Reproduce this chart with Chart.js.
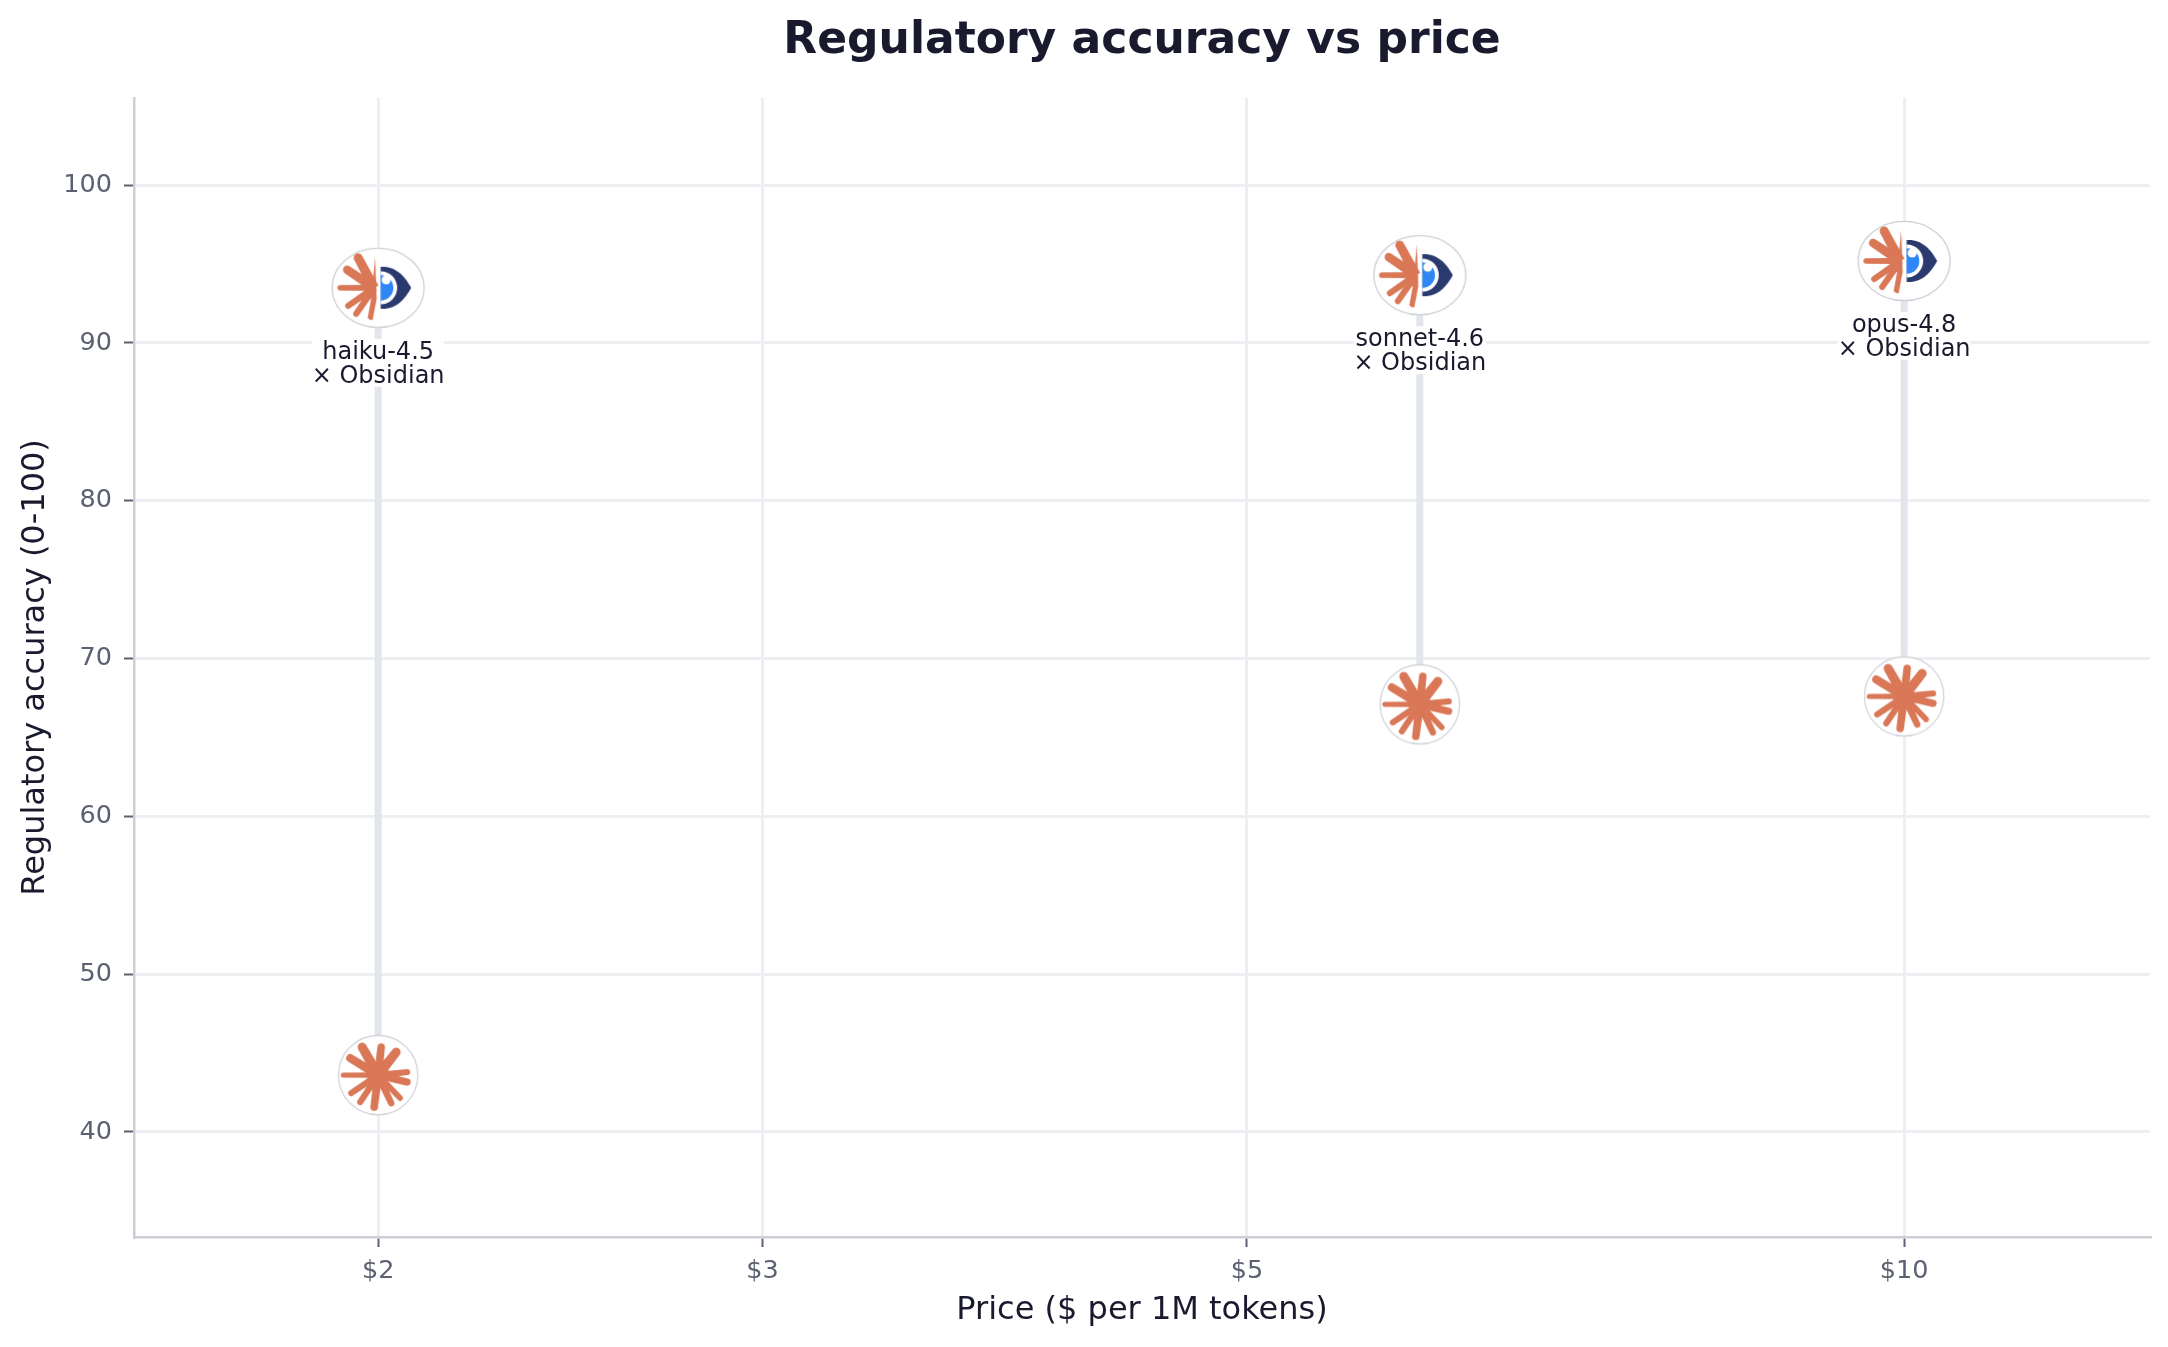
<!DOCTYPE html>
<html>
<head>
<meta charset="utf-8">
<title>Regulatory accuracy vs price</title>
<script src="https://cdn.jsdelivr.net/npm/chart.js@4"></script>
<style>
    body { margin: 0; background: #fff; }
    canvas { display: block; }
</style>
</head>
<body>
<canvas id="priceChart" width="2168" height="1347"></canvas>
<script>
const models = ['haiku-4.5', 'sonnet-4.6', 'opus-4.8'];
const prices = [2, 6, 10];
const baseAccuracy = [43.6, 67.1, 67.6];
const pairedAccuracy = [93.5, 94.3, 95.2];
const pairedWith = '× Obsidian';
const xTicks = [2, 3, 5, 10];
const yTicks = [40, 50, 60, 70, 80, 90, 100];

const ink = '#1a1a2e';
const tickInk = '#5b6170';
const gridColor = '#eeeff3';
const axisColor = '#ccd0d6';
const connectorColor = '#e2e5eb';
const coral = '#d97757';
const fontFamily = '"DejaVu Sans"';

// spoke that swells towards its rounded tip
function spoke(g, x0, y0, x1, y1, width) {
    const len = Math.hypot(x1 - x0, y1 - y0);
    const nx = -(y1 - y0) / len;
    const ny = (x1 - x0) / len;
    const inner = width * 0.55;
    g.beginPath();
    g.moveTo(x0 + nx * inner, y0 + ny * inner);
    g.lineTo(x1 + nx * width / 2, y1 + ny * width / 2);
    g.arc(x1, y1, width / 2, Math.atan2(ny, nx), Math.atan2(-ny, -nx), true);
    g.lineTo(x0 - nx * inner, y0 - ny * inner);
    g.closePath();
    g.fill();
}

// round badge with the full coral star
function makeBaseIcon() {
    const c = document.createElement('canvas');
    c.width = 84;
    c.height = 84;
    const g = c.getContext('2d');
    g.translate(42, 42);
    g.fillStyle = '#fff';
    g.strokeStyle = axisColor;
    g.lineWidth = 1.2;
    g.beginPath();
    g.arc(0, 0, 39.7, 0, Math.PI * 2);
    g.fill();
    g.stroke();

    g.fillStyle = coral;
    const tips = [[-16, -28, 9], [3, -28, 7.5], [18, -23, 9], [29, -3, 6], [29, 7, 7], [22, 23, 5.5], [13, 28, 6.5],
        [-4, 32, 7.5], [-18, 27, 6], [-27, 18, 6], [-35, 0, 5], [-28, -17, 8]];
    tips.forEach(t => spoke(g, 0, 0, t[0], t[1], t[2]));
    g.beginPath();
    g.arc(0, 0, 11, 0, Math.PI * 2);
    g.fill();
    return c;
}

// wider badge, half star on the left and the Obsidian eye on the right
function makePairedIcon() {
    const c = document.createElement('canvas');
    c.width = 96;
    c.height = 84;
    const g = c.getContext('2d');
    g.translate(48, 42);
    g.fillStyle = '#fff';
    g.strokeStyle = axisColor;
    g.lineWidth = 1.2;
    g.beginPath();
    g.ellipse(0, 0, 46, 39.7, 0, 0, Math.PI * 2);
    g.fill();
    g.stroke();

    g.fillStyle = coral;
    const tips = [[-20, -30, 9], [-31, -18, 8.5], [-38, 0, 5.5], [-30, 18, 6], [-22, 26, 6]];
    tips.forEach(t => spoke(g, -4, 0, t[0], t[1], t[2]));
    g.beginPath();
    g.moveTo(-3, -31);
    g.lineTo(-1.5, 11);
    g.lineTo(-5.5, 32);
    g.quadraticCurveTo(-8, 33, -10.5, 30);
    g.lineTo(-7, 11);
    g.lineTo(-13, 11);
    g.lineTo(-13, -9);
    g.lineTo(-5, -9);
    g.closePath();
    g.fill();

    // eye: navy shell, white ring, blue pupil with a bite taken out at the top
    g.fillStyle = '#2a3a6e';
    g.beginPath();
    g.moveTo(2.5, -21);
    g.bezierCurveTo(18, -22, 27, -11, 33, 0);
    g.bezierCurveTo(27, 11, 18, 22, 2.5, 21);
    g.closePath();
    g.fill();
    g.fillStyle = '#fff';
    g.beginPath();
    g.arc(2.5, 0, 16.5, -Math.PI / 2, Math.PI / 2);
    g.closePath();
    g.fill();
    g.fillStyle = '#2f87f5';
    g.beginPath();
    g.arc(2.5, 0, 12.7, -Math.PI / 2, Math.PI / 2);
    g.closePath();
    g.fill();
    g.fillStyle = '#fff';
    g.beginPath();
    g.arc(8, -8, 4.5, 0, Math.PI * 2);
    g.fill();
    return c;
}

const baseIcon = makeBaseIcon();
const pairedIcon = makePairedIcon();

const connectors = models.map((m, i) => ({
    type: 'line',
    label: m + ' range',
    data: [{ x: prices[i], y: baseAccuracy[i] }, { x: prices[i], y: pairedAccuracy[i] }],
    borderColor: connectorColor,
    borderWidth: 7,
    pointRadius: 0,
    order: 3
}));

// two-line caption under each paired marker, on a white plate
const captionPlugin = {
    id: 'captions',
    afterDatasetsDraw(chart) {
        const { ctx, scales } = chart;
        ctx.save();
        ctx.font = '24px ' + fontFamily;
        ctx.textAlign = 'center';
        ctx.textBaseline = 'middle';
        models.forEach((m, i) => {
            const x = scales.x.getPixelForValue(prices[i]);
            const y = scales.y.getPixelForValue(pairedAccuracy[i]);
            ctx.fillStyle = '#fff';
            ctx.fillRect(x - 66, y + 51, 132, 48);
            ctx.fillStyle = ink;
            ctx.fillText(m, x, y + 65);
            ctx.fillText(pairedWith, x, y + 89);
        });
        ctx.restore();
    }
};

new Chart(document.getElementById('priceChart'), {
    type: 'scatter',
    data: {
        datasets: [
            ...connectors,
            {
                label: 'base',
                data: prices.map((p, i) => ({ x: p, y: baseAccuracy[i] })),
                pointStyle: baseIcon,
                order: 1
            },
            {
                label: 'with Obsidian',
                data: prices.map((p, i) => ({ x: p, y: pairedAccuracy[i] })),
                pointStyle: pairedIcon,
                order: 1
            }
        ]
    },
    options: {
        responsive: false,
        animation: false,
        layout: { padding: { right: 18 } },
        plugins: {
            legend: { display: false },
            tooltip: { enabled: false },
            title: {
                display: true,
                fullSize: false,
                text: 'Regulatory accuracy vs price',
                color: ink,
                font: { family: fontFamily, size: 44, weight: 'bold' },
                padding: { top: 15, bottom: 30 }
            }
        },
        scales: {
            x: {
                type: 'logarithmic',
                min: 1.546,
                max: 12.96,
                afterBuildTicks: s => { s.ticks = xTicks.map(value => ({ value })); },
                afterFit: s => { s.height = 110; },
                ticks: {
                    autoSkip: false,
                    maxRotation: 0,
                    color: tickInk,
                    padding: 9,
                    font: { family: fontFamily, size: 25.5 },
                    callback: v => '$' + v
                },
                grid: { color: gridColor, lineWidth: 3, tickColor: tickInk, tickWidth: 2, tickLength: 10 },
                border: { color: axisColor, width: 2.5 },
                title: {
                    display: true,
                    text: 'Price ($ per 1M tokens)',
                    color: ink,
                    font: { family: fontFamily, size: 32 },
                    padding: { top: 0, bottom: 17 }
                }
            },
            y: {
                min: 33.34,
                max: 105.54,
                afterBuildTicks: s => { s.ticks = yTicks.map(value => ({ value })); },
                afterFit: s => { s.width = 134; },
                ticks: {
                    autoSkip: false,
                    color: tickInk,
                    padding: 12,
                    font: { family: fontFamily, size: 25.5 }
                },
                grid: { color: gridColor, lineWidth: 3, tickColor: tickInk, tickWidth: 2, tickLength: 10 },
                border: { color: axisColor, width: 2.5 },
                title: {
                    display: true,
                    text: 'Regulatory accuracy (0-100)',
                    color: ink,
                    font: { family: fontFamily, size: 32 },
                    padding: { top: 16, bottom: 0 }
                }
            }
        }
    },
    plugins: [captionPlugin]
});
</script>
</body>
</html>
